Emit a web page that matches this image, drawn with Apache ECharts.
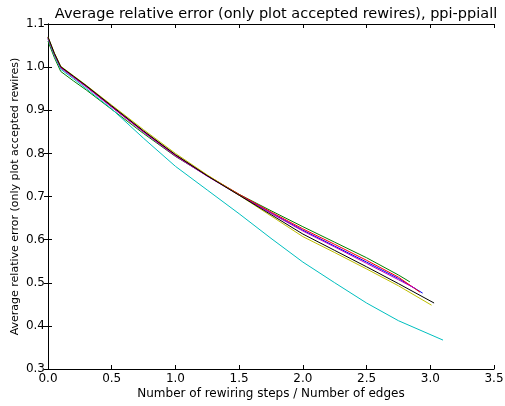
<!DOCTYPE html>
<html>
<head>
<meta charset="utf-8">
<script src="https://cdn.jsdelivr.net/npm/echarts@6/dist/echarts.min.js"></script>
<style>
html, body { margin: 0; padding: 0; background: #fff; }
#chart { width: 505px; height: 406px; }
</style>
</head>
<body>
<div id="chart"></div>
<script>
// rewiring steps / edges, shared grid of x positions
const steps = [0, 0.05, 0.1, 0.2, 0.3, 0.5, 0.75, 1.0, 1.25, 1.5, 1.75, 2.0, 2.25, 2.5, 2.75];

// average relative error per run (last entry pairs with the run's own end step)
const blueErr    = [1.068, 1.030, 0.999, 0.977, 0.955, 0.908, 0.850, 0.795, 0.748, 0.704, 0.662, 0.622, 0.585, 0.548, 0.510, 0.476];
const greenErr   = [1.060, 1.022, 0.990, 0.968, 0.947, 0.902, 0.846, 0.793, 0.748, 0.705, 0.667, 0.630, 0.594, 0.558, 0.518, 0.502];
const redErr     = [1.068, 1.031, 1.000, 0.978, 0.956, 0.909, 0.851, 0.796, 0.749, 0.705, 0.664, 0.625, 0.589, 0.552, 0.513, 0.478];
const cyanErr    = [1.065, 1.027, 0.995, 0.973, 0.950, 0.903, 0.835, 0.770, 0.715, 0.660, 0.603, 0.548, 0.500, 0.453, 0.412, 0.367];
const magentaErr = [1.066, 1.029, 0.998, 0.976, 0.954, 0.907, 0.849, 0.794, 0.747, 0.703, 0.661, 0.620, 0.583, 0.545, 0.507, 0.487];
const yellowErr  = [1.070, 1.033, 1.002, 0.980, 0.958, 0.912, 0.855, 0.800, 0.750, 0.703, 0.655, 0.607, 0.570, 0.532, 0.493, 0.448];
const blackErr   = [1.070, 1.032, 1.001, 0.979, 0.957, 0.910, 0.852, 0.797, 0.748, 0.703, 0.658, 0.613, 0.575, 0.537, 0.498, 0.453];

// final step reached by each run
const endSteps = { blue: 2.94, green: 2.84, red: 2.92, cyan: 3.10, magenta: 2.88, yellow: 3.01, black: 3.03 };

const xTicks = [0, 0.5, 1.0, 1.5, 2.0, 2.5, 3.0, 3.5];
const yTicks = [0.3, 0.4, 0.5, 0.6, 0.7, 0.8, 0.9, 1.0, 1.1];

const runs = [
  { name: 'blue', color: '#0000ff', values: blueErr },
  { name: 'green', color: '#008000', values: greenErr },
  { name: 'red', color: '#ff0000', values: redErr },
  { name: 'cyan', color: '#00bfbf', values: cyanErr },
  { name: 'magenta', color: '#bf00bf', values: magentaErr },
  { name: 'yellow', color: '#bfbf00', values: yellowErr },
  { name: 'black', color: '#000000', values: blackErr }
];

function toPoints(run) {
  const xs = steps.concat([endSteps[run.name]]);
  return xs.map((x, i) => [x, run.values[i]]);
}

const font = 'DejaVu Sans';
const axisLine = { show: true, lineStyle: { color: '#000', width: 1 } };
const tick = { show: true, inside: true, length: 4, lineStyle: { color: '#000' } };

const chart = echarts.init(document.getElementById('chart'), null, { renderer: 'canvas' });
chart.setOption({
  animation: false,
  backgroundColor: '#fff',
  title: {
    text: 'Average relative error (only plot accepted rewires), ppi-ppiall',
    left: 271,
    top: 2,
    textAlign: 'center',
    textStyle: { fontFamily: font, fontSize: 14.5, fontWeight: 'normal', color: '#000' }
  },
  grid: { left: 48, right: 11, top: 24, bottom: 37, outerBoundsMode: 'none', containLabel: false },
  xAxis: [{
    type: 'value', min: 0, max: 3.5, interval: 0.5, position: 'bottom',
    name: 'Number of rewiring steps / Number of edges',
    nameLocation: 'middle', nameGap: 19, nameMoveOverlap: false,
    nameTextStyle: { fontFamily: font, fontSize: 12, color: '#000' },
    axisLine: axisLine, axisTick: tick, splitLine: { show: false },
    axisLabel: { fontFamily: font, fontSize: 12, color: '#000', margin: 4,
      formatter: v => xTicks.some(t => Math.abs(t - v) < 1e-9) ? v.toFixed(1) : '' }
  }, {
    type: 'value', min: 0, max: 3.5, interval: 0.5, position: 'top',
    axisLine: axisLine, axisTick: tick, splitLine: { show: false }, axisLabel: { show: false }
  }],
  yAxis: [{
    type: 'value', min: 0.3, max: 1.1, interval: 0.1, position: 'left',
    name: 'Average relative error (only plot accepted rewires)',
    nameLocation: 'middle', nameGap: 27, nameRotate: 90, nameMoveOverlap: false,
    nameTextStyle: { fontFamily: font, fontSize: 11, color: '#000' },
    axisLine: axisLine, axisTick: tick, splitLine: { show: false },
    axisLabel: { fontFamily: font, fontSize: 12, color: '#000', margin: 3,
      formatter: v => yTicks.some(t => Math.abs(t - v) < 1e-9) ? v.toFixed(1) : '' }
  }, {
    type: 'value', min: 0.3, max: 1.1, interval: 0.1, position: 'right',
    axisLine: axisLine, axisTick: tick, splitLine: { show: false }, axisLabel: { show: false }
  }],
  series: runs.map(run => ({
    type: 'line',
    name: run.name,
    data: toPoints(run),
    showSymbol: false,
    smooth: false,
    lineStyle: { color: run.color, width: 1 },
    itemStyle: { color: run.color }
  }))
});
</script>
</body>
</html>
